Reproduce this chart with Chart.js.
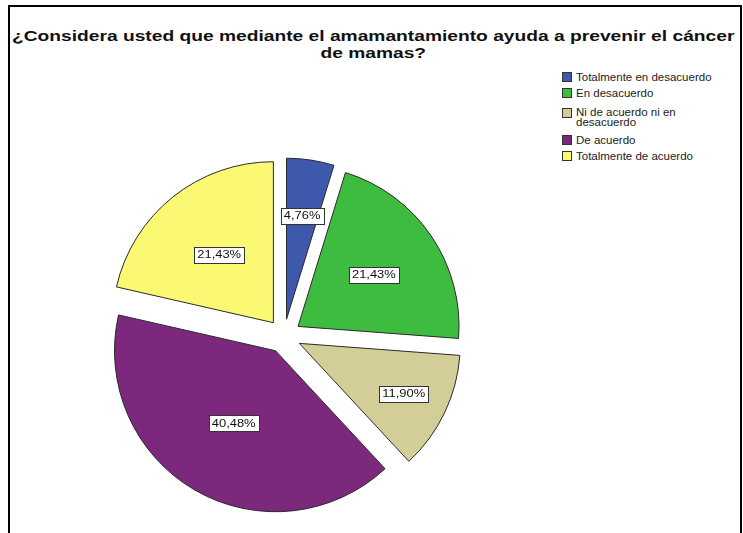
<!DOCTYPE html>
<html>
<head>
<meta charset="utf-8">
<script src="https://cdn.jsdelivr.net/npm/chart.js@4.4.1/dist/chart.umd.min.js"></script>
<style>
  html, body { margin: 0; padding: 0; background: #fff; overflow: hidden; }
  body { width: 743px; height: 533px; position: relative; font-family: "Liberation Sans", Arial, sans-serif; }
  #frame { position: absolute; left: 8px; top: 5px; width: 734px; height: 600px; border: 2px solid #000; box-sizing: border-box; }
  #title { position: absolute; left: 2px; top: 27px; width: 743px; text-align: center; font-weight: bold; font-size: 15px; line-height: 17px; color: #111; }
  #title div span { display: inline-block; transform: scaleX(1.28); white-space: nowrap; }
  #legend { position: absolute; left: 562px; top: 71.5px; display: flex; flex-direction: column; gap: 5px; font-size: 10px; line-height: 11px; color: #222; }
  .item { display: flex; align-items: flex-start; }
  .item.tall { margin-top: 4px; margin-bottom: 1px; line-height: 10.5px; }
  .swatch { width: 10px; height: 10px; border: 1px solid #333; box-sizing: border-box; margin-top: 0.5px; flex: none; }
  .text { margin-left: 4px; transform: scaleX(1.15); transform-origin: left center; white-space: nowrap; }
  #wrap { position: absolute; left: 84px; top: 140px; width: 400px; height: 392px; }
</style>
</head>
<body>
<div id="frame"></div>
<div id="title"></div>
<div id="legend"></div>
<div id="wrap"><canvas id="pie" width="400" height="392"></canvas></div>
<script>
const titleLines = ['¿Considera usted que mediante el amamantamiento ayuda a prevenir el cáncer', 'de mamas?'];
const categories = ['Totalmente en desacuerdo', 'En desacuerdo', 'Ni de acuerdo ni en desacuerdo', 'De acuerdo', 'Totalmente de acuerdo'];
const legendLines = [['Totalmente en desacuerdo'], ['En desacuerdo'], ['Ni de acuerdo ni en', 'desacuerdo'], ['De acuerdo'], ['Totalmente de acuerdo']];
const percents = [4.76, 21.43, 11.90, 40.48, 21.43];
const colors = ['#3e58ac', '#3ebc40', '#d3ce97', '#7c287d', '#fbf873'];

const explode = 17;   // px each slice is pulled out from the centre

// title and legend as plain html
const titleEl = document.getElementById('title');
titleLines.forEach(line => {
    const div = document.createElement('div');
    const span = document.createElement('span');
    span.textContent = line;
    div.appendChild(span);
    titleEl.appendChild(div);
});

const legendEl = document.getElementById('legend');
legendLines.forEach((lines, i) => {
    const item = document.createElement('div');
    item.className = lines.length > 1 ? 'item tall' : 'item';
    const sw = document.createElement('div');
    sw.className = 'swatch';
    sw.style.background = colors[i];
    const txt = document.createElement('div');
    txt.className = 'text';
    txt.innerHTML = lines.join('<br>');
    item.appendChild(sw);
    item.appendChild(txt);
    legendEl.appendChild(item);
});

function fmt(v) {
    return v.toFixed(2).replace('.', ',') + '%';
}

// the built-in arc offset also grows the radius of thin slices,
// so pull every slice straight out along its middle angle instead
const arcDraw = Chart.ArcElement.prototype.draw;
Chart.ArcElement.prototype.draw = function (ctx) {
    const mid = (this.startAngle + this.endAngle) / 2;
    ctx.save();
    ctx.translate(Math.cos(mid) * explode, Math.sin(mid) * explode);
    arcDraw.call(this, ctx);
    ctx.restore();
};

// white boxed percentage labels inside each slice
const boxLabels = {
    id: 'boxLabels',
    afterDatasetsDraw(chart, args, opts) {
        const ctx = chart.ctx;
        const meta = chart.getDatasetMeta(0);
        ctx.save();
        ctx.font = opts.font;
        ctx.textAlign = 'center';
        ctx.textBaseline = 'middle';
        meta.data.forEach((arc, i) => {
            const p = arc.getProps(['x', 'y', 'startAngle', 'endAngle', 'outerRadius']);
            const mid = (p.startAngle + p.endAngle) / 2;
            const dist = explode + p.outerRadius * opts.radial[i];
            const x = p.x + Math.cos(mid) * dist;
            const y = p.y + Math.sin(mid) * dist;
            const text = fmt(percents[i]);
            const w = Math.round(ctx.measureText(text).width * opts.stretch + 6);
            const h = 16;
            const bx = Math.round(x - w / 2) + 0.5;
            const by = Math.round(y - h / 2) + 0.5;
            ctx.fillStyle = '#fff';
            ctx.fillRect(bx, by, w, h);
            ctx.strokeStyle = '#333';
            ctx.lineWidth = 1;
            ctx.strokeRect(bx, by, w, h);
            ctx.save();
            ctx.translate(x, y + 1);
            ctx.scale(opts.stretch, 1);
            ctx.fillStyle = '#111';
            ctx.fillText(text, 0, 0);
            ctx.restore();
        });
        ctx.restore();
    }
};

new Chart(document.getElementById('pie'), {
    type: 'pie',
    data: {
        labels: categories,
        datasets: [{
            data: percents,
            backgroundColor: colors,
            borderColor: '#2a2a2a',
            borderWidth: 1
        }]
    },
    plugins: [boxLabels],
    options: {
        responsive: false,
        animation: false,
        radius: 161,
        layout: { padding: 0 },
        plugins: {
            legend: { display: false },
            tooltip: { enabled: false },
            boxLabels: {
                font: '10px "Liberation Sans", Arial, sans-serif',
                stretch: 1.29,
                radial: [0.65, 0.57, 0.72, 0.52, 0.54]
            }
        }
    }
});
</script>
</body>
</html>
